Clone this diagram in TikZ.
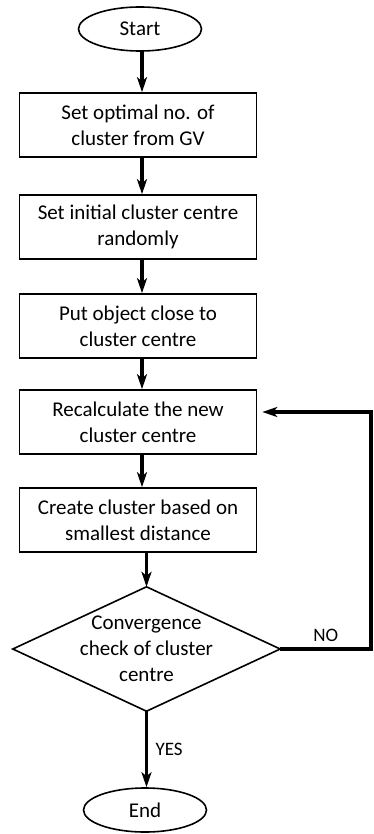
\documentclass[tikz,border=0pt]{standalone}
\usepackage{fontspec}
\setmainfont{Carlito}
\usepackage{tikz}
\usetikzlibrary{
	arrows.meta,
	shapes.geometric,
	positioning
}

\begin{document}
\begin{tikzpicture}[x=1pt, y=-1pt,
		font=\fontsize{21}{26}\selectfont,
		term/.style={draw, line width=1.6pt, ellipse, inner sep=0pt,
			minimum width=123pt, minimum height=44pt},
		proc/.style={draw, line width=1.6pt, rectangle, align=center,
			minimum width=237pt, minimum height=64pt},
		flow/.style={line width=3.5pt, -{Stealth[length=15pt, width=10pt, inset=4pt]}},
		lbl/.style={font=\fontsize{19}{22}\selectfont}]
		\useasboundingbox (0,0) rectangle (373,834);
		% main column
		\node[term] (start) at (140,29) {Start};
		\node[proc] (b1) at (138,125) {Set optimal no. of\\cluster from GV};
		\node[proc] (b2) at (138,227) {Set initial cluster centre\\randomly};
		\node[proc] (b3) at (138,326) {Put object close to\\cluster centre};
		\node[proc] (b4) at (138,422) {Recalculate the new\\cluster centre};
		\node[proc] (b5) at (138,520) {Create cluster based on\\smallest distance};
		% decision, drawn as a diamond round a plain node
		\node[align=center, minimum width=267pt, minimum height=124pt, inner sep=0pt]
			(dia) at (146.5,649) {Convergence\\check of cluster\\centre};
		\draw[line width=1.6pt] (dia.north) -- (dia.east) -- (dia.south) -- (dia.west) -- cycle;
		\node[term] (end) at (145,810) {End};
		% arrows
		\draw[flow] (start.south -| 142,0) -- (b1.north -| 142,0);
		\draw[flow] (b1.south -| 142,0) -- (b2.north -| 142,0);
		\draw[flow] (b2.south -| 142,0) -- (b3.north -| 142,0);
		\draw[flow] (b3.south -| 142,0) -- (b4.north -| 142,0);
		\draw[flow] (b4.south -| 142,0) -- (b5.north -| 142,0);
		\draw[flow] (b5.south -| dia.north) -- (dia.north);
		\draw[flow] (dia.south) -- node[lbl, right=4pt] {YES} (dia.south |- end.north);
		% loop back when not converged
		\draw[flow, shorten >=5pt] (dia.east) -- node[lbl, above=2pt] {NO} ++(91,0)
			|- ([yshift=10pt]b4.east);
	\end{tikzpicture}
\end{document}
